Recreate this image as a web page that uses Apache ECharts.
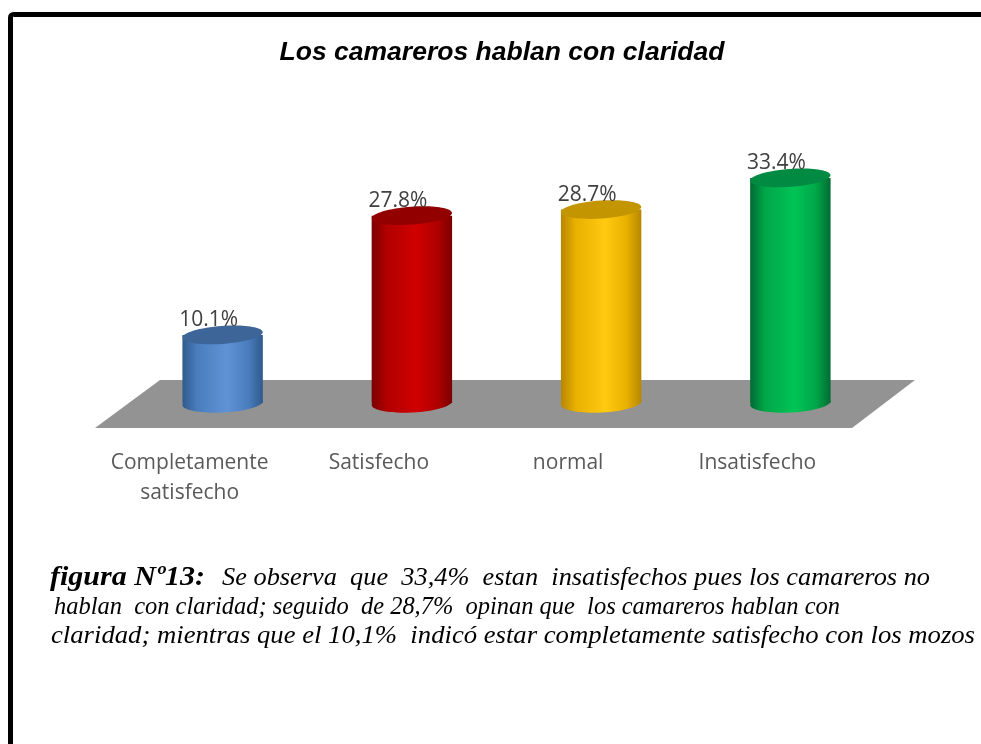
<!DOCTYPE html>
<html>
<head>
<meta charset="utf-8">
<script src="https://cdn.jsdelivr.net/npm/echarts@6/dist/echarts.min.js"></script>
<style>
html,body{margin:0;padding:0;background:#fff;}
#chart{width:981px;height:744px;}
</style>
</head>
<body>
<div id="chart"></div>
<script>
// ---- data ----
var categories = ['Completamente\nsatisfecho', 'Satisfecho', 'normal', 'Insatisfecho'];
var values = [10.1, 27.8, 28.7, 33.4];
var titleText = 'Los camareros hablan con claridad';
var captionLead = 'figura Nº13:';
var captionLines = [
  'Se observa  que  33,4%  estan  insatisfechos pues los camareros no',
  'hablan  con claridad; seguido  de 28,7%  opinan que  los camareros hablan con',
  'claridad; mientras que el 10,1%  indicó estar completamente satisfecho con los mozos'
];

// ---- styles ----
var palette = [
  {edge:'#2f5a8c', mid:'#4a7dbd', light:'#5e93d6', top:'#3d6597'},
  {edge:'#7a0000', mid:'#b00000', light:'#d00000', top:'#930000'},
  {edge:'#b58700', mid:'#e8b000', light:'#ffca10', top:'#c39500'},
  {edge:'#006b33', mid:'#00a648', light:'#00c456', top:'#008a42'}
];

var mctx = document.createElement('canvas').getContext('2d');
function measure(text, font){ mctx.font = font; return mctx.measureText(text).width; }
function fitScale(text, font, target){ return target / measure(text, font); }

var serif = '"Liberation Serif", "Times New Roman", Times, serif';
var titleFont = 'italic bold 26px "Liberation Sans", Arial, sans-serif';
var leadFont = 'italic bold 28px ' + serif;
var capFont = 'italic 25px ' + serif;

var capTargets = [ {x:222, w:708, y:585}, {x:54, w:786, y:614}, {x:51, w:924, y:643} ];

var graphics = [
  {type:'rect', shape:{x:10.5, y:14.5, width:1000, height:800, r:3}, style:{fill:'none', stroke:'#000', lineWidth:5}, z:100},
  {type:'text', x:502, y:53, scaleX: fitScale(titleText, titleFont, 445),
   style:{text:titleText, font:titleFont, fill:'#000', align:'center', verticalAlign:'middle', x:0, y:0}},
  {type:'text', x:50, y:585, scaleX: fitScale(captionLead, leadFont, 155),
   style:{text:captionLead, font:leadFont, fill:'#000', align:'left', verticalAlign:'bottom', x:0, y:7}}
];
captionLines.forEach(function(t, i){
  var c = capTargets[i];
  graphics.push({type:'text', x:c.x, y:c.y, scaleX: fitScale(t, capFont, c.w),
    style:{text:t, font:capFont, fill:'#000', align:'left', verticalAlign:'bottom', x:0, y:6}});
});

function renderFloor(params, api){
  var cs = params.coordSys;
  var y0 = api.coord([0, 0])[1];
  var L = cs.x, R = cs.x + cs.width;
  return {
    type:'polygon',
    shape:{points:[[L+32, y0-23],[R+30, y0-23],[R-33, y0+25],[L-33, y0+25]]},
    style:{fill:'#939393'}
  };
}

function renderBar(params, api){
  var idx = params.dataIndex;
  var top = api.coord([api.value(0), api.value(1)]);
  var base = api.coord([api.value(0), 0]);
  var w = api.size([1, 0])[0] * 0.425;
  var cx = top[0], x = cx - w/2;
  var ry = 9;
  var p = palette[idx];
  var grad = new echarts.graphic.LinearGradient(0,0,1,0,[
    {offset:0, color:p.edge},{offset:0.18, color:p.mid},{offset:0.55, color:p.light},
    {offset:0.82, color:p.mid},{offset:1, color:p.edge}]);
  return {
    type:'group',
    children:[
      {type:'ellipse', shape:{cx:cx, cy:base[1], rx:w/2, ry:ry+0.5}, rotation:0.05, originX:cx, originY:base[1], style:{fill:grad}},
      {type:'rect', shape:{x:x, y:top[1], width:w, height:base[1]-top[1]}, style:{fill:grad}},
      {type:'ellipse', shape:{cx:cx, cy:top[1], rx:w/2, ry:ry}, rotation:0.07, originX:cx, originY:top[1], style:{fill:p.top}},
      {type:'text', z2:10, style:{text: values[idx].toFixed(1) + '%', x:cx-14, y:top[1]-15,
        align:'center', verticalAlign:'middle', font:'21px "Open Sans"', fill:'#404040'}}
    ]
  };
}

var chart = echarts.init(document.getElementById('chart'), null, {renderer:'canvas'});
chart.setOption({
  animation:false,
  backgroundColor:'#fff',
  grid:{left:128, right:96, top:66, bottom:341},
  xAxis:{type:'category', data:categories,
    axisLine:{show:false}, axisTick:{show:false}, splitLine:{show:false},
    axisLabel:{interval:0, margin:45, fontFamily:'Open Sans', fontSize:21, color:'#595959', lineHeight:30,
      padding:[0,66,0,0]}},
  yAxis:{type:'value', min:0, max:50, show:false},
  graphic:graphics,
  series:[
    {type:'custom', z:1, data:[[0,0]], renderItem:renderFloor, silent:true},
    {type:'custom', z:2, data:values.map(function(v,i){return [i, v];}), renderItem:renderBar}
  ]
});
</script>
</body>
</html>
